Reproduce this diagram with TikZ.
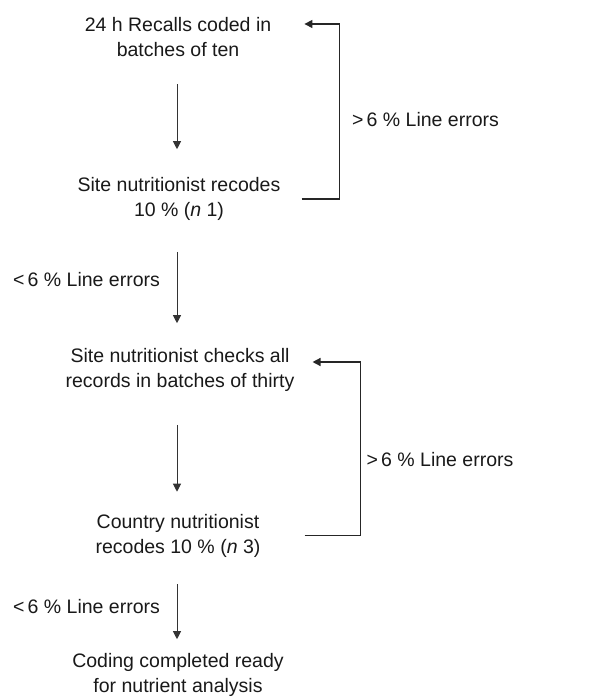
\documentclass[tikz,border=0pt]{standalone}
\usepackage{fontspec}
\setmainfont{Liberation Sans}
\usetikzlibrary{arrows.meta}
\begin{document}
\begin{tikzpicture}[x=1pt,y=-1pt,
  txt/.style={align=center,font=\fontsize{19.5}{25}\selectfont,text=black!90,inner sep=3pt},
  flow/.style={-{Triangle[length=8pt,width=8pt]},line width=1pt,draw=black!80},
  back/.style={-{Triangle[length=8pt,width=8pt]},line width=1.4pt,draw=black!85}]
\useasboundingbox (0,0) rectangle (607,698);
\node[txt] (n1) at (178,37.5) {24 h Recalls coded in\\batches of ten};
\node[txt] (n2) at (179,199) {Site nutritionist recodes\\10 \% (\textit{n} 1)};
\node[txt] (n3) at (180,370) {Site nutritionist checks all\\records in batches of thirty};
\node[txt] (n4) at (178,535.5) {Country nutritionist\\recodes 10 \% (\textit{n} 3)};
\node[txt] (n5) at (178,675) {Coding completed ready\\for nutrient analysis};
\node[txt] (l1) at (425.5,120) {>\,6 \% Line errors};
\node[txt] (l2) at (86.5,280) {<\,6 \% Line errors};
\node[txt] (l3) at (440,460) {>\,6 \% Line errors};
\node[txt] (l4) at (86.5,607) {<\,6 \% Line errors};
\draw[flow,shorten <=24pt,shorten >=25pt] (n1.south-|177,0) -- (n2.north-|177,0);
\draw[flow,shorten <=28pt,shorten >=22pt] (n2.south-|177,0) -- (n3.north-|177,0);
\draw[flow,shorten <=30pt,shorten >=19pt] (n3.south-|177,0) -- (n4.north-|177,0);
\draw[flow,shorten <=24pt,shorten >=11pt] (n4.south-|177,0) -- (n5.north-|177,0);
\draw[back] ([xshift=18pt]n2.east) -- ([xshift=56pt]n2.east) |- ([xshift=30pt,yshift=13.5pt]n1.east);
\draw[back] ([xshift=41pt]n4.east) -- ([xshift=97pt]n4.east) |- ([xshift=15pt,yshift=8pt]n3.east);
\end{tikzpicture}
\end{document}
